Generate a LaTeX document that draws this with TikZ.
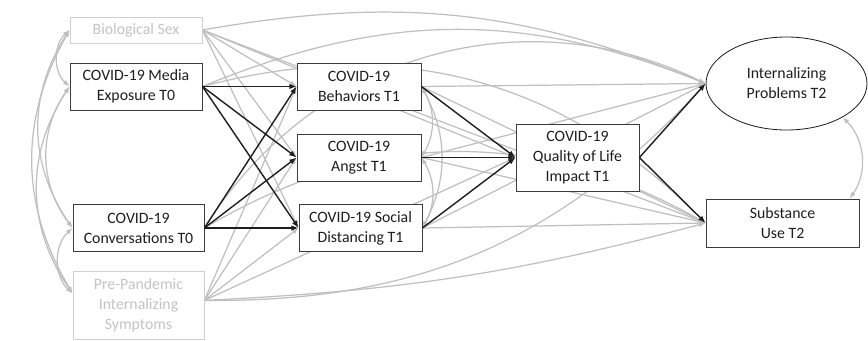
\documentclass[tikz,border=0pt]{standalone}
\usepackage{fontspec}
\setmainfont{Carlito}
\usepackage{tikz}
\usetikzlibrary{arrows.meta,shapes.geometric,backgrounds}
\definecolor{ink}{HTML}{1E1E1E}
\definecolor{frame}{HTML}{3C3C3C}
\definecolor{faint}{HTML}{BFBFBF}
\definecolor{faintframe}{HTML}{D0D0D0}
\definecolor{fainttext}{HTML}{C4C4C4}
\tikzset{
  block/.style={rectangle, draw=frame, fill=white, line width=0.7pt, text=ink, align=center,
                minimum width=3.7cm, minimum height=1.41cm, inner sep=1pt,
                font=\fontsize{13.5}{17}\selectfont},
  ghost/.style={block, draw=faintframe, text=fainttext},
  outcome/.style={ellipse, draw=ink, fill=white, line width=0.7pt, text=ink, align=center,
                  minimum width=4.83cm, minimum height=2.79cm, inner sep=0pt,
                  font=\fontsize{13.5}{17}\selectfont},
  arr/.style={-{Latex[length=2.2mm, width=1.7mm]}, line width=1.2pt, draw=ink},
  garr/.style={-{Latex[length=2mm, width=1.5mm]}, line width=1.05pt, draw=faint},
  gcov/.style={{Latex[length=2mm, width=1.5mm]}-{Latex[length=2mm, width=1.5mm]}, line width=1.05pt, draw=faint},
}

\begin{document}
\begin{tikzpicture}[x=0.03cm, y=-0.03cm]
    \useasboundingbox (0,0) rectangle (868,341);

    %% --- T0 predictors and covariates ---
    \node[ghost, minimum width=3.96cm, minimum height=0.78cm] (bs) at (136,30) {Biological Sex};
    \node[block, minimum width=3.96cm] (me) at (136,86.5) {COVID-19 Media\\Exposure T0};
    \node[block, minimum width=3.93cm] (co) at (138.5,228) {COVID-19\\Conversations T0};
    \node[ghost, minimum width=3.93cm, minimum height=2.04cm] (pp) at (138.5,305) {Pre-Pandemic\\Internalizing\\Symptoms};

    %% --- T1 mediators ---
    \node[block, minimum width=3.72cm] (beh) at (359,86.5) {COVID-19\\Behaviors T1};
    \node[block, minimum width=3.72cm] (ang) at (359,157.5) {COVID-19\\Angst T1};
    \node[block, minimum width=3.69cm] (soc) at (360.5,228) {COVID-19 Social\\Distancing T1};
    \node[block, minimum width=3.69cm, minimum height=2.01cm] (qol) at (577.5,157.5) {COVID-19\\Quality of Life\\Impact T1};

    %% --- T2 outcomes ---
    \node[outcome] (int) at (786.5,83.5) {Internalizing\\Problems T2};
    \node[block, minimum width=4.59cm, minimum height=1.44cm] (sub) at (782.5,223) {Substance\\Use T2};

    \begin{scope}[on background layer]
    %% --- covariances among T0 variables ---
    \draw[gcov] (bs.west) to[bend right=48] (me.west);
    \draw[gcov] (bs.west) to[bend right=34] (co.west);
    \draw[gcov] (bs.west) to[bend right=30] (pp.170);
    \draw[gcov] (me.west) to[bend right=36] (co.west);
    \draw[gcov] (me.west) to[bend right=34] (pp.170);
    \draw[gcov] (co.west) to[bend right=48] (pp.170);

    %% --- covariate paths ---
    \draw[garr] (bs.east) -- (beh.west);
    \draw[garr] (bs.east) -- (ang.west);
    \draw[garr] (bs.east) -- (soc.west);
    \draw[garr] (bs.east) -- (qol.west);
    \draw[garr] (bs.east) to[bend left=16] (int.west);
    \draw[garr] (bs.east) -- (sub.west);
    \draw[garr] (pp.4) -- (beh.west);
    \draw[garr] (pp.4) -- (ang.west);
    \draw[garr] (pp.4) -- (soc.west);
    \draw[garr] (pp.4) -- (qol.west);
    \draw[garr] (pp.4) to[bend right=24] (int.west);
    \draw[garr] (pp.4) to[bend right=6] (sub.west);

    %% --- direct paths to T2 ---
    \draw[garr] (me.east) to[bend left=22] (int.west);
    \draw[garr] (me.east) to[bend left=30] (sub.west);
    \draw[garr] (co.east) to[bend left=42] (int.west);
    \draw[garr] (co.east) to[bend left=30] (sub.west);
    \draw[garr] (beh.east) -- (int.west);
    \draw[garr] (beh.east) -- (sub.west);
    \draw[garr] (ang.east) -- (int.west);
    \draw[garr] (ang.east) -- (sub.west);
    \draw[garr] (soc.east) -- (int.west);
    \draw[garr] (soc.east) -- (sub.west);

    %% --- residual covariances ---
    \draw[gcov] (beh.east) to[bend left=30] (ang.east);
    \draw[gcov] (ang.east) to[bend left=30] (soc.east);
    \draw[gcov] (beh.east) to[bend left=28] (soc.east);
    \draw[gcov] (int.-31) to[bend left=40] (sub.20);
    \end{scope}

    %% --- hypothesized paths ---
    \draw[arr] (me.east) -- (beh.west);
    \draw[arr] (me.east) -- (ang.west);
    \draw[arr] (me.east) -- (soc.west);
    \draw[arr] (co.east) -- (beh.west);
    \draw[arr] (co.east) -- (ang.west);
    \draw[arr] (co.east) -- (soc.west);
    \draw[arr] (beh.east) -- (qol.west);
    \draw[arr] (ang.east) -- (qol.west);
    \draw[arr] (soc.east) -- (qol.west);
    \draw[arr] (qol.east) -- (int.west);
    \draw[arr] (qol.east) -- (sub.west);
\end{tikzpicture}
\end{document}
